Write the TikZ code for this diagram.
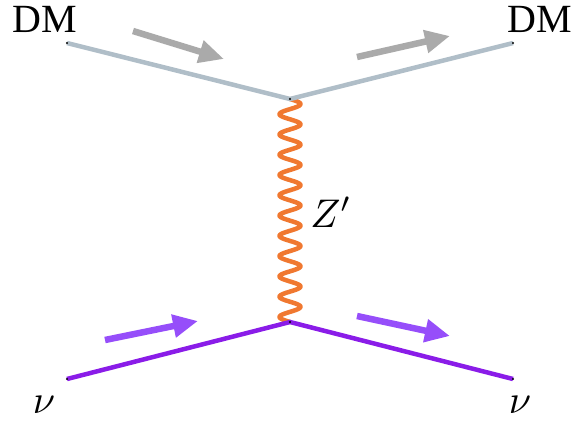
\documentclass[tikz,border=0pt]{standalone}
\usepackage{fontspec}
\setmainfont{Liberation Serif}
\usetikzlibrary{arrows.meta}
\definecolor{dmline}{RGB}{176,190,200}
\definecolor{dmarrow}{RGB}{170,170,170}
\definecolor{nuline}{RGB}{138,28,232}
\definecolor{nuarrow}{RGB}{150,78,250}
\definecolor{zprime}{RGB}{240,120,48}
\tikzset{
  fermion/.style={line width=4.5pt},
  boson/.style={zprime, line width=4.5pt, line join=round},
  flow/.style={line width=6.5pt, -{Triangle[length=25pt,width=22pt]}},
  lbl/.style={inner sep=0pt, font=\fontsize{40}{40}\selectfont},
  mlbl/.style={inner sep=0pt, scale=4},
  enddot/.style={fill=black, circle, inner sep=0pt, minimum size=2.2pt}
}
\begin{document}
\begin{tikzpicture}[x=1pt, y=-1pt]
  \useasboundingbox (0,0) rectangle (574,424);
  % vertices and external legs
  \coordinate (vtop) at (290,99);
  \coordinate (vbot) at (290,322);
  \coordinate (dmin) at (67,43);
  \coordinate (dmout) at (513,43);
  \coordinate (nuin) at (67,379);
  \coordinate (nuout) at (513,379);
  % momentum-flow arrows
  \coordinate (a1s) at (133,31);  \coordinate (a1e) at (224,59);
  \coordinate (a2s) at (357,57);  \coordinate (a2e) at (450,36);
  \coordinate (a3s) at (105,340); \coordinate (a3e) at (198,321);
  \coordinate (a4s) at (357,316); \coordinate (a4e) at (450,336);

  % mediator: eleven full waves from vtop down to vbot
  \draw[boson, shift={(vtop)}]
    plot[domain=0:223, samples=400, smooth] ({10.5*sin(\x/223*11*360)}, {\x});
  % dark matter line
  \draw[fermion, dmline] (dmin) -- (vtop) -- (dmout);
  % neutrino line
  \draw[fermion, nuline] (nuin) -- (vbot) -- (nuout);

  \draw[flow, dmarrow] (a1s) -- (a1e);
  \draw[flow, dmarrow] (a2s) -- (a2e);
  \draw[flow, nuarrow] (a3s) -- (a3e);
  \draw[flow, nuarrow] (a4s) -- (a4e);

  \foreach \p in {vtop,vbot,dmin,dmout,nuin,nuout}
    \node[enddot] at (\p) {};

  % labels
  \node[lbl] (ldmin) at (45,19) {DM};
  \node[lbl] (ldmout) at (540,19) {DM};
  \node[mlbl] (lnuin) at (44,405) {$\nu$};
  \node[mlbl] (lnuout) at (520,405) {$\nu$};
  \node[mlbl] (lz) at (331,212) {$Z'$};
\end{tikzpicture}
\end{document}
